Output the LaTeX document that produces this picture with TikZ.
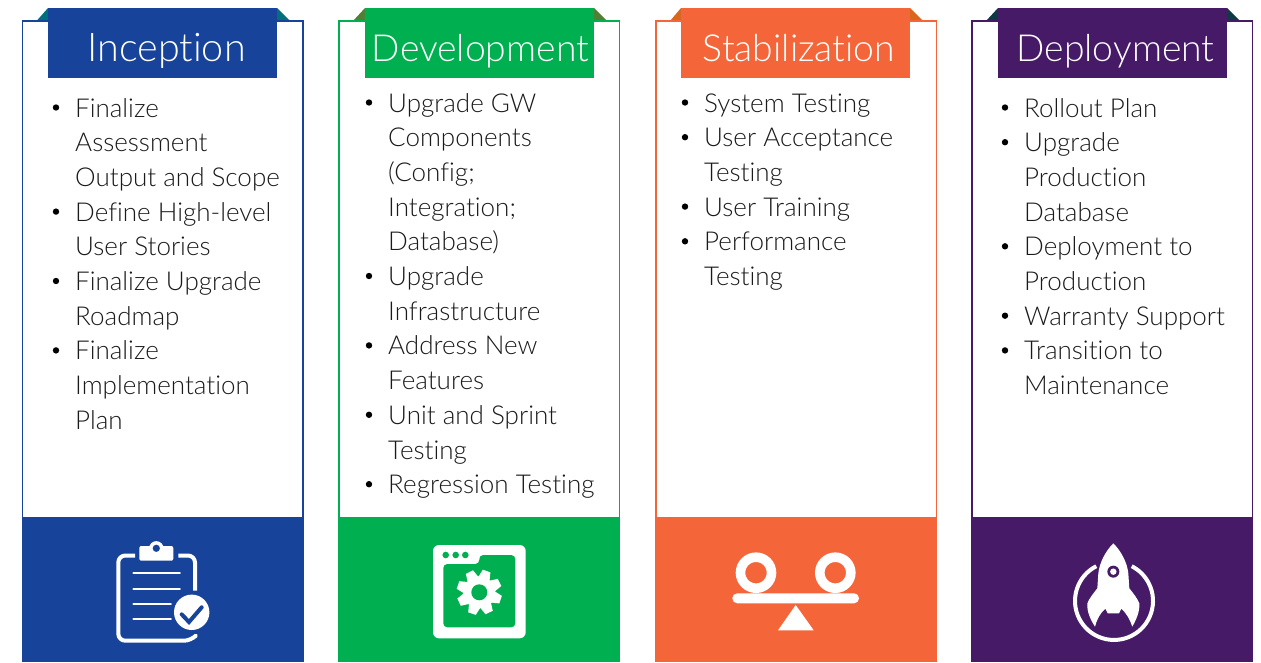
\documentclass[tikz,border=0pt]{standalone}
\usepackage{fontspec}
\setmainfont[Ligatures=NoCommon]{Lato Light}
\definecolor{cblue}{HTML}{17449A}
\definecolor{cgreen}{HTML}{00B050}
\definecolor{corange}{HTML}{F4663A}
\definecolor{cpurple}{HTML}{461A66}
\definecolor{eblue}{HTML}{00707F}
\definecolor{egreen}{HTML}{4F8033}
\definecolor{eorange}{HTML}{D9661F}
\definecolor{epurple}{HTML}{0D3A45}
\definecolor{ink}{HTML}{1A1A1A}
\tikzset{
 panel/.style={draw=#1,line width=1.5pt,fill=white},
 foot/.style={fill=#1,draw=none},
 banner/.style={fill=#1,draw=none,minimum width=229pt,minimum height=70pt,inner sep=0pt,anchor=north west},
 title/.style={text=white,font=\fontsize{37.3}{40}\selectfont,inner sep=0pt,anchor=base},
 line/.style={text=ink,font=\fontsize{26}{30}\selectfont,inner sep=0pt,anchor=base west},
 dot/.style={circle,fill=black,draw=none,minimum size=6.4pt,inner sep=0pt},
 icon/.style={fill=white,draw=none},
 stroke/.style={draw=white,line cap=round,line join=round,fill=none}
}
\newcommand{\colbox}[7]{% x, colour, earcolour, title, name, banner x, title shift
 \fill[#3] (#1+14,21) -- (#6,8) -- (#6,21) -- cycle;
 \fill[#3] (#6+229,8) -- (#6+229,21) -- (#6+242,21) -- cycle;
 \path[panel=#2] (#1,21) rectangle (#1+280.5,518);
 \path[foot=#2] (#1-.75,517) rectangle (#1+281.25,662);
 \node[banner=#2] (#5bar) at (#6,8) {};
 \node[title] (#5title) at (#6+114.5+#7,61) {#4};
}
\newcommand{\tl}[5]{\node[line] (#1) at (#2,#3+34.7*#4) {#5};}
\newcommand{\bl}[4]{\node[dot] (#1) at (#2,#3-9.5+34.7*#4) {};}
\begin{document}
\begin{tikzpicture}[x=1pt,y=-1pt]
\useasboundingbox (0,0) rectangle (1261,662);
\colbox{22.5}{cblue}{eblue}{\fontsize{39.5}{40}\selectfont Inception}{a}{48}{4}
\colbox{339}{cgreen}{egreen}{Development}{b}{365}{1}
\colbox{656}{corange}{eorange}{Stabilization}{c}{681}{3.5}
\colbox{972}{cpurple}{epurple}{Deployment}{d}{998}{3}
% column 1
\bl{ab0}{56}{117}{0}\bl{ab1}{56}{117}{3}\bl{ab2}{56}{117}{5}\bl{ab3}{56}{117}{7}
\tl{a0}{75}{117}{0}{Finalize}
\tl{a1}{75}{117}{1}{Assessment}
\tl{a2}{75}{117}{2}{Output and Scope}
\tl{a3}{75}{117}{3}{Define High-level}
\tl{a4}{75}{117}{4}{User Stories}
\tl{a5}{75}{117}{5}{Finalize Upgrade}
\tl{a6}{75}{117}{6}{Roadmap}
\tl{a7}{75}{117}{7}{Finalize}
\tl{a8}{75}{117}{8}{Implementation}
\tl{a9}{75}{117}{9}{Plan}
% column 2
\bl{bb0}{369}{112}{0}\bl{bb1}{369}{112}{5}\bl{bb2}{369}{112}{7}\bl{bb3}{369}{112}{9}\bl{bb4}{369}{112}{11}
\tl{b0}{388}{112}{0}{Upgrade GW}
\tl{b1}{388}{112}{1}{Components}
\tl{b2}{388}{112}{2}{(Config;}
\tl{b3}{388}{112}{3}{Integration;}
\tl{b4}{388}{112}{4}{Database)}
\tl{b5}{388}{112}{5}{Upgrade}
\tl{b6}{388}{112}{6}{Infrastructure}
\tl{b7}{388}{112}{7}{Address New}
\tl{b8}{388}{112}{8}{Features}
\tl{b9}{388}{112}{9}{Unit and Sprint}
\tl{b10}{388}{112}{10}{Testing}
\tl{b11}{388}{112}{11}{Regression Testing}
% column 3
\bl{cb0}{685}{112}{0}\bl{cb1}{685}{112}{1}\bl{cb2}{685}{112}{3}\bl{cb3}{685}{112}{4}
\tl{c0}{704}{112}{0}{System Testing}
\tl{c1}{704}{112}{1}{User Acceptance}
\tl{c2}{704}{112}{2}{Testing}
\tl{c3}{704}{112}{3}{User Training}
\tl{c4}{704}{112}{4}{Performance}
\tl{c5}{704}{112}{5}{Testing}
% column 4
\bl{db0}{1005}{117}{0}\bl{db1}{1005}{117}{1}\bl{db2}{1005}{117}{4}\bl{db3}{1005}{117}{6}\bl{db4}{1005}{117}{7}
\tl{d0}{1024}{117}{0}{Rollout Plan}
\tl{d1}{1024}{117}{1}{Upgrade}
\tl{d2}{1024}{117}{2}{Production}
\tl{d3}{1024}{117}{3}{Database}
\tl{d4}{1024}{117}{4}{Deployment to}
\tl{d5}{1024}{117}{5}{Production}
\tl{d6}{1024}{117}{6}{Warranty Support}
\tl{d7}{1024}{117}{7}{Transition to}
\tl{d8}{1024}{117}{8}{Maintenance}
% clipboard
\draw[stroke,line width=4pt,line cap=butt,rounded corners=7pt] (135,555.5) -- (118.3,555.5) -- (118.3,640.7) -- (191,640.7) -- (195,636.5);
\draw[stroke,line width=4pt,line cap=butt,rounded corners=7pt] (178.3,555.5) -- (195,555.5) -- (195,590.7);
\fill[icon,rounded corners=2pt] (139.3,546) rectangle (173.3,560.7);
\fill[icon] (156.3,548.3) circle (7.2pt);
\fill[cblue] (156.3,548.3) circle (3.6pt);
\draw[stroke,line width=1.7pt] (133.3,573.3) -- (180,573.3);
\draw[stroke,line width=1.7pt] (133.3,589) -- (180,589);
\draw[stroke,line width=1.7pt] (133.3,604.3) -- (171,604.3);
\draw[stroke,line width=1.7pt] (133.3,619.3) -- (171,619.3);
\fill[icon] (191.7,612.3) circle (17.7pt);
\draw[cblue,line width=4pt,line join=miter,line cap=round] (181.7,614.3) -- (189,622) -- (201.7,607.3);
% window with gear
\fill[icon,rounded corners=6pt] (433,545) rectangle (525.7,638.3);
\fill[cgreen,rounded corners=4pt] (443.3,564) -- (479.3,564) -- (479.3,555) -- (515.3,555) -- (515.3,627.3) -- (443.3,627.3) -- cycle;
\foreach \xx in {445.7,455.7,465.3}{\fill[cgreen] (\xx,555) circle (3.3pt);}
\begin{scope}[shift={(479.3,592.3)}]
 \fill[icon] (0,0) circle (16pt);
 \foreach \ang in {26,71,...,341}{
  \fill[icon,rotate=\ang] (14,-6) -- (22.5,-4) -- (22.5,4) -- (14,6) -- cycle;
 }
 \fill[cgreen] (0,0) circle (8pt);
\end{scope}
% balance
\draw[white,line width=9.6pt] (756,572.7) circle (15.5pt);
\draw[white,line width=9.6pt] (835.3,572.7) circle (15.5pt);
\fill[icon,rounded corners=4.9pt] (732.3,593.3) rectangle (859,603.3);
\fill[icon] (795.7,605) -- (813.7,630.3) -- (778,630.3) -- cycle;
% rocket
\draw[white,line width=4pt] (1096.3,566.2) arc[start angle=117,end angle=423,radius=39pt];
\begin{scope}[shift={(1050,525)},x=.3333pt,y=-.3333pt]
 \fill[icon] (190,55) .. controls (215,80) and (232,115) .. (235,145) -- (238,190)
  .. controls (250,205) and (262,220) .. (268,235) .. controls (270,260) and (258,285) .. (247,305)
  .. controls (240,285) and (230,265) .. (214,251) -- (207,265) -- (173,265) -- (166,251)
  .. controls (150,265) and (140,285) .. (135,305) .. controls (122,285) and (110,260) .. (112,235)
  .. controls (118,220) and (130,205) .. (142,190) -- (145,145) .. controls (148,115) and (165,80) .. (190,55) -- cycle;
 \fill[cpurple] (190,140) circle (6pt);
 \fill[icon] (190,140) circle (3.2pt);
\end{scope}
\end{tikzpicture}
\end{document}
